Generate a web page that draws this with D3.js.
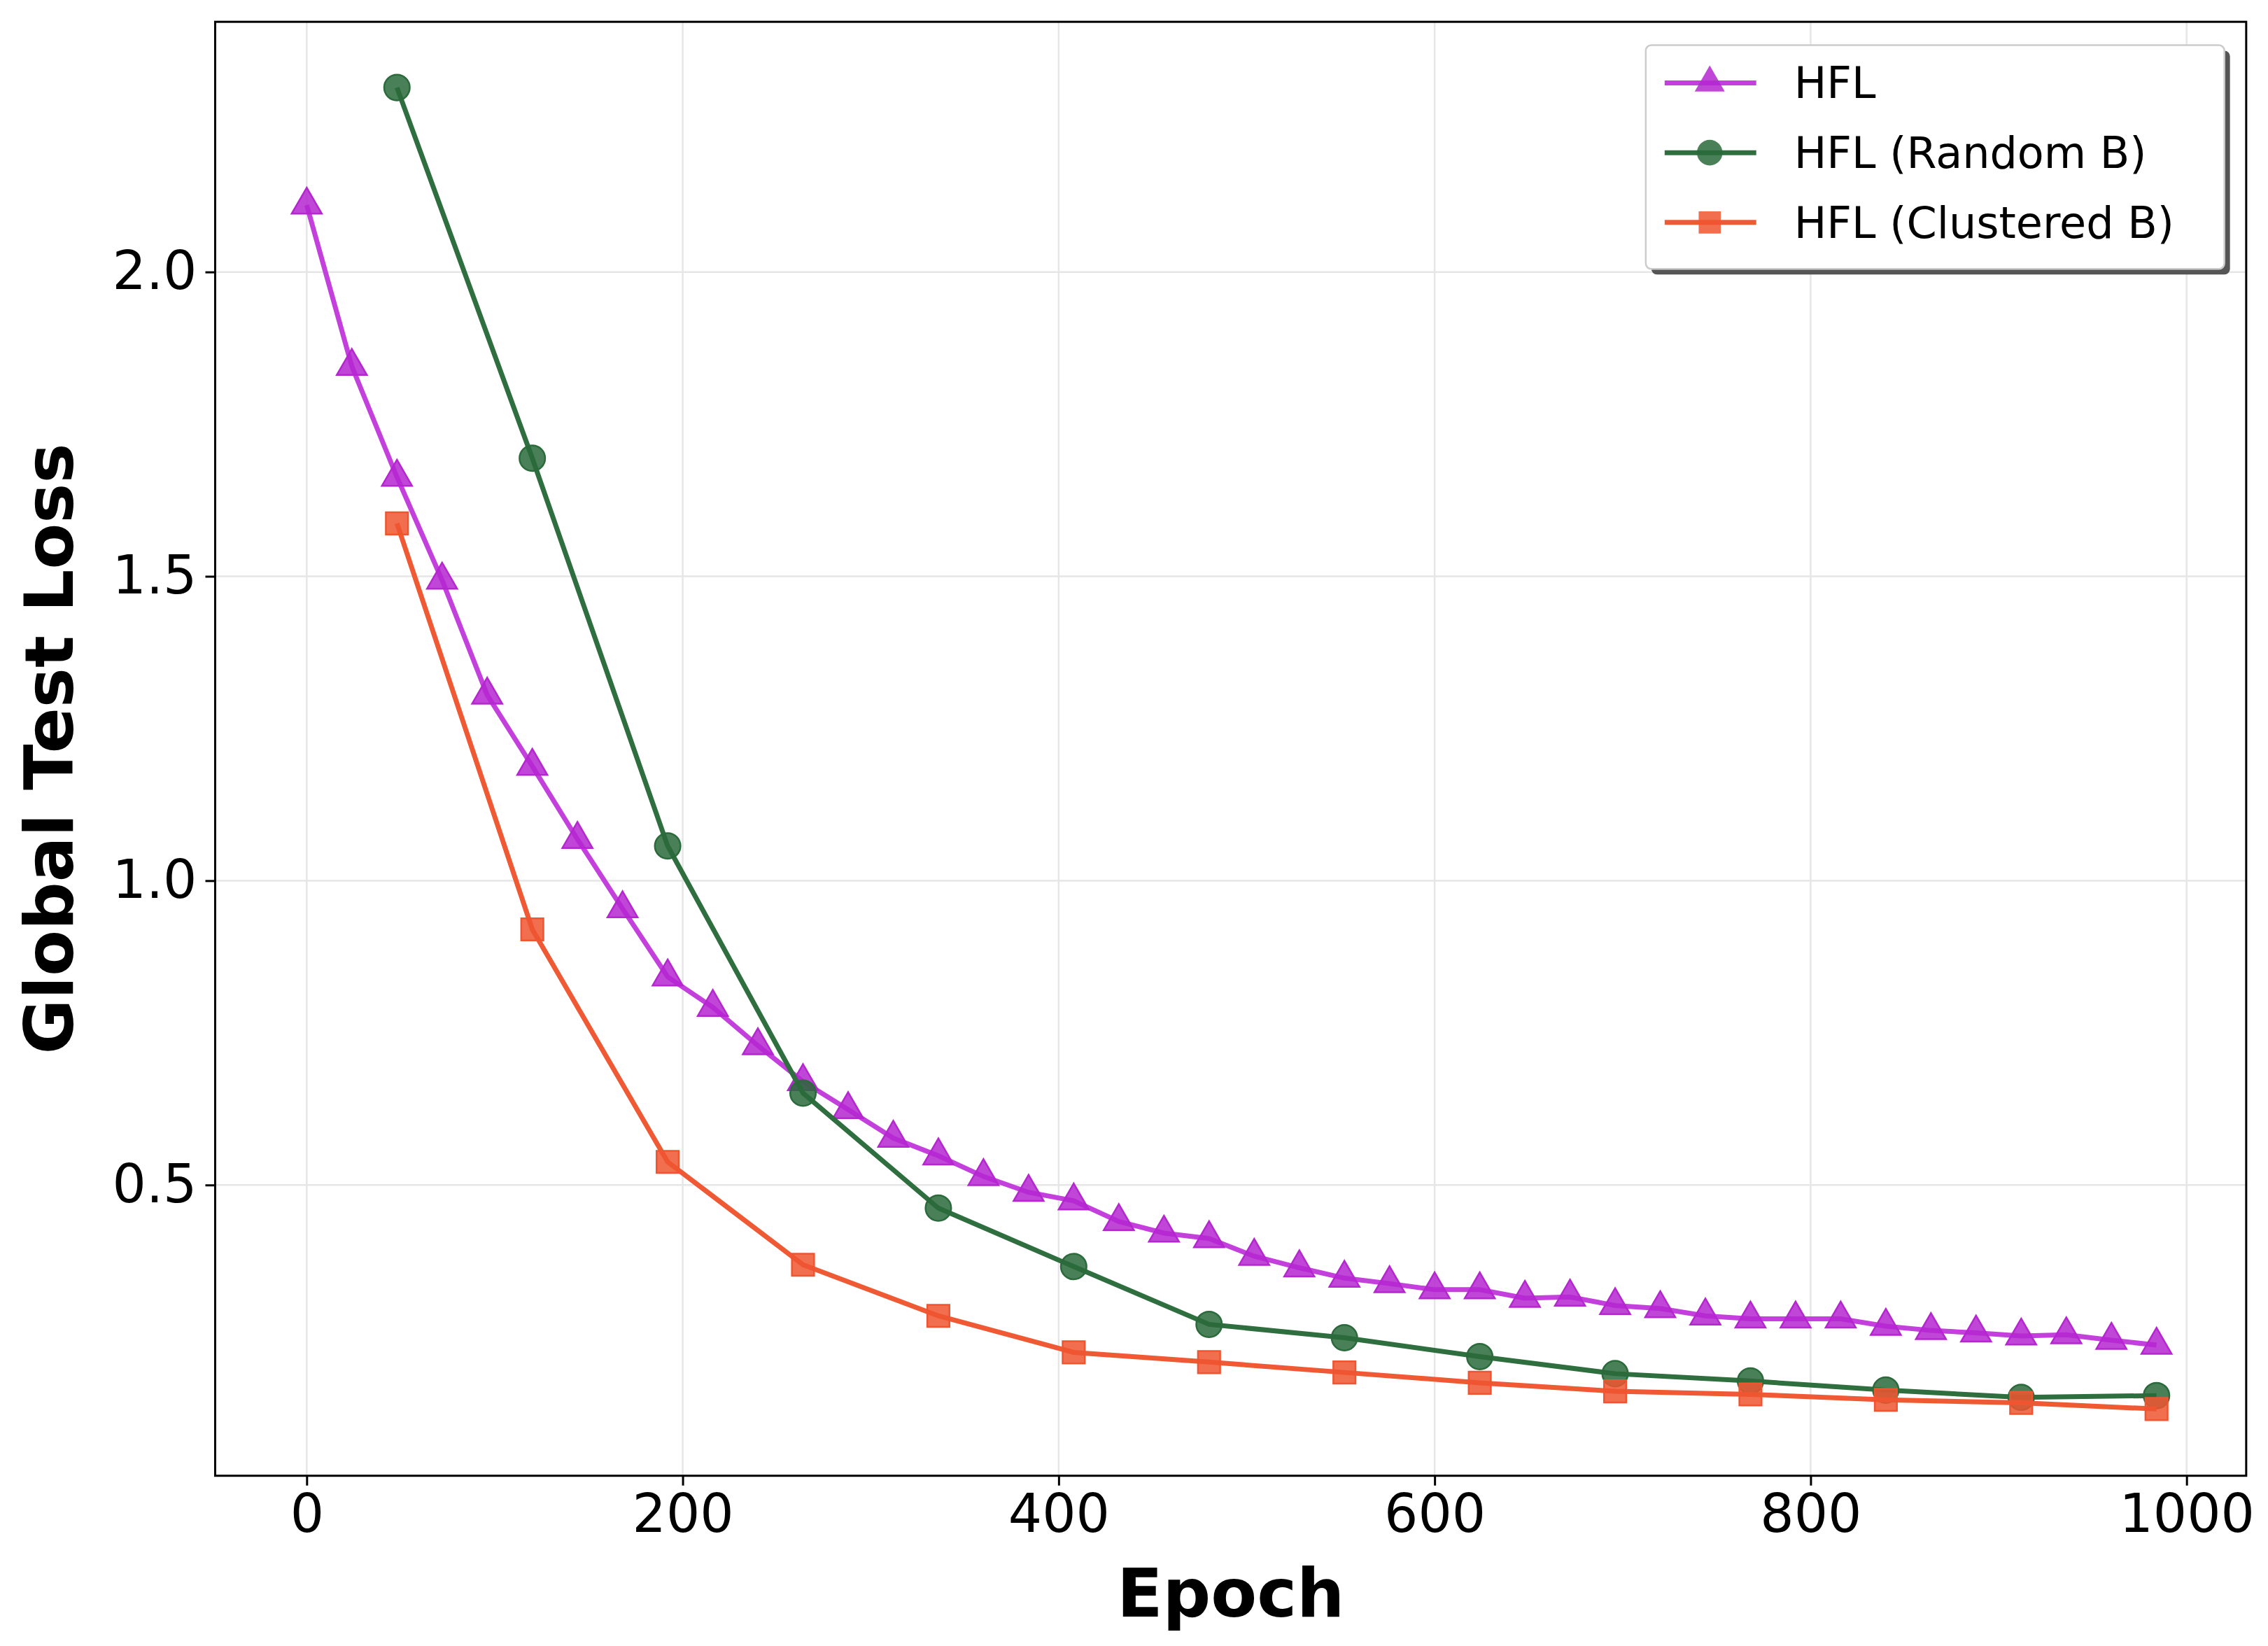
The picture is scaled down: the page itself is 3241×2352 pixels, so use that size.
<!DOCTYPE html>
<html><head><meta charset="utf-8">
<script src="https://cdn.jsdelivr.net/npm/d3@7"></script>
<style>body{margin:0;background:#fff}text{font-family:"DejaVu Sans",sans-serif}</style>
</head><body><svg id="c" width="3241" height="2352"></svg>
<script>
var hflEpochs = d3.range(0, 985, 24);
var hflLoss = [2.11,1.845,1.663,1.494,1.305,1.188,1.068,0.954,0.842,0.792,0.729,0.67,0.624,0.577,0.548,0.514,0.488,0.474,0.44,0.421,0.412,0.383,0.364,0.347,0.338,0.328,0.328,0.314,0.316,0.302,0.297,0.285,0.28,0.28,0.28,0.268,0.261,0.257,0.252,0.254,0.245,0.237];
var bEpochs = [48,120,192,264,336,408,480,552,624,696,768,840,912,984];
var randomLoss = [2.303,1.694,1.057,0.651,0.462,0.366,0.271,0.249,0.218,0.19,0.178,0.163,0.151,0.154];
var clusteredLoss = [1.587,0.92,0.538,0.369,0.285,0.225,0.209,0.192,0.175,0.161,0.156,0.147,0.142,0.132];
var xTicks = [0,200,400,600,800,1000];
var yTicks = [0.5,1.0,1.5,2.0];

var k = 3241/1560;
var L = 148*k, R = 1545*k, T = 15*k, B = 1015*k;
var svg = d3.select("#c");
var x = d3.scaleLinear().domain([-48.7,1031.7]).range([L,R]);
var y = d3.scaleLinear().domain([0.0223,2.411]).range([B,T]);

svg.append("g").selectAll("line").data(xTicks).join("line")
  .attr("x1",d=>x(d)).attr("x2",d=>x(d)).attr("y1",T).attr("y2",B)
  .attr("stroke","#e6e6e6").attr("stroke-width",2.5);
svg.append("g").selectAll("line").data(yTicks).join("line")
  .attr("y1",d=>y(d)).attr("y2",d=>y(d)).attr("x1",L).attr("x2",R)
  .attr("stroke","#e6e6e6").attr("stroke-width",2.5);

var xa = svg.append("g").attr("transform","translate(0,"+B+")")
  .call(d3.axisBottom(x).tickValues(xTicks).tickFormat(d3.format("d")).tickSize(14).tickPadding(12));
var ya = svg.append("g").attr("transform","translate("+L+",0)")
  .call(d3.axisLeft(y).tickValues(yTicks).tickFormat(d3.format(".1f")).tickSize(14).tickPadding(12));
[xa,ya].forEach(a=>{a.select(".domain").remove();a.selectAll("line").attr("stroke-width",3);
  a.selectAll("text").attr("font-size",76).attr("fill","#000").attr("font-family","DejaVu Sans");});
svg.append("rect").attr("x",L).attr("y",T).attr("width",R-L).attr("height",B-T)
  .attr("fill","none").attr("stroke","#000").attr("stroke-width",3);

svg.append("text").attr("x",(L+R)/2).attr("y",1112*k).attr("text-anchor","middle")
  .attr("font-size",96).attr("font-weight","bold").text("Epoch");
svg.append("text").attr("transform","translate("+(50*k)+","+((T+B)/2)+") rotate(-90)")
  .attr("text-anchor","middle").attr("font-size",96).attr("font-weight","bold").text("Global Test Loss");

var series = [
  {name:"HFL",ex:hflEpochs,v:hflLoss,line:"#c440dc",fill:"#b526d0",sym:d3.symbolTriangle,size:800},
  {name:"HFL (Random B)",ex:bEpochs,v:randomLoss,line:"#2f6e3e",fill:"#2a6a3b",sym:d3.symbolCircle,size:1050},
  {name:"HFL (Clustered B)",ex:bEpochs,v:clusteredLoss,line:"#ef5a35",fill:"#ee5530",sym:d3.symbolSquare,size:1000}
];
var line = d3.line().x(d=>x(d[0])).y(d=>y(d[1]));
series.forEach(s=>{
  var pts = s.ex.map((e,i)=>[e,s.v[i]]);
  var g = svg.append("g");
  g.append("path").attr("d",line(pts)).attr("fill","none").attr("stroke",s.line).attr("stroke-width",7);
  g.selectAll("path.m").data(pts).join("path").attr("class","m")
    .attr("transform",d=>"translate("+x(d[0])+","+y(d[1])+")")
    .attr("d",d3.symbol(s.sym,s.size)).attr("fill",s.fill).attr("fill-opacity",0.85)
    .attr("stroke",s.fill).attr("stroke-width",2.5);
});

var lx = 1132*k, ly = 31*k, lw = 398*k, lh = 154*k;
svg.append("rect").attr("x",lx+8).attr("y",ly+8).attr("width",lw).attr("height",lh).attr("rx",8).attr("fill","#555");
svg.append("rect").attr("x",lx).attr("y",ly).attr("width",lw).attr("height",lh).attr("rx",8)
  .attr("fill","#fff").attr("stroke","#ccc").attr("stroke-width",2.5);
series.forEach((s,i)=>{
  var cy = (57+i*48)*k;
  svg.append("line").attr("x1",1145*k).attr("x2",1208*k).attr("y1",cy).attr("y2",cy).attr("stroke",s.line).attr("stroke-width",7);
  svg.append("path").attr("transform","translate("+(1176*k)+","+cy+")").attr("d",d3.symbol(s.sym,s.size)).attr("fill",s.fill).attr("fill-opacity",0.85);
  svg.append("text").attr("x",1234*k).attr("y",cy+22).attr("font-size",62).text(s.name);
});
</script></body></html>
